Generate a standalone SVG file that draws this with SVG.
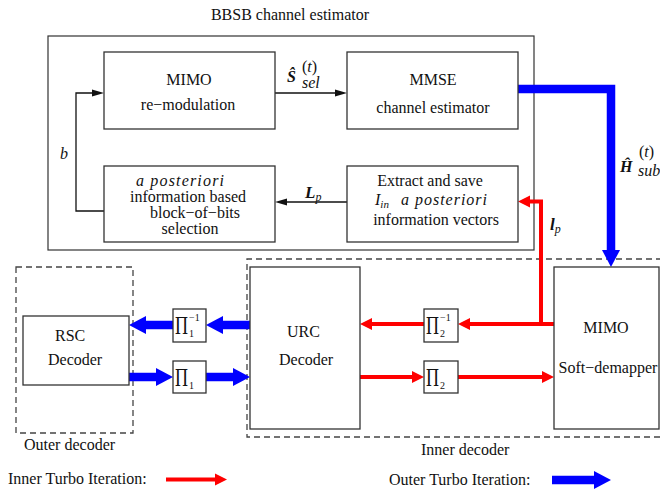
<svg xmlns="http://www.w3.org/2000/svg" width="660" height="489" viewBox="0 0 660 489">
<style>
.box{fill:#fff;stroke:#333;stroke-width:1.3}
.frame{fill:none;stroke:#333;stroke-width:1.2}
.dash{fill:none;stroke:#444;stroke-width:1.3;stroke-dasharray:6 4}
.t{font-family:"Liberation Serif","Times New Roman",serif;font-size:16px;fill:#111}
.c{text-anchor:middle}
.i{font-style:italic}
.bi{font-style:italic;font-weight:bold}
.pi{font-family:"Liberation Serif","Times New Roman",serif;font-size:18px;fill:#111}
.sm{font-family:"Liberation Serif","Times New Roman",serif;font-size:10px;fill:#111}
.blk{fill:none;stroke:#111;stroke-width:1.3}
.blu{fill:none;stroke:#0000ff;stroke-width:8.5;stroke-linejoin:miter}
.red{fill:none;stroke:#ff0000;stroke-width:4;stroke-linejoin:miter}
</style>
<defs>
<marker id="hb" markerUnits="userSpaceOnUse" orient="auto" overflow="visible" refX="0" refY="0" markerWidth="20" markerHeight="20"><path d="M0,-9 L17,0 L0,9 Z" fill="#0000ff"/></marker>
<marker id="hr" markerUnits="userSpaceOnUse" orient="auto" overflow="visible" refX="0" refY="0" markerWidth="14" markerHeight="14"><path d="M0,-6 L12,0 L0,6 Z" fill="#ff0000"/></marker>
<marker id="hk" markerUnits="userSpaceOnUse" orient="auto" overflow="visible" refX="0" refY="0" markerWidth="14" markerHeight="8"><path d="M0,-3.5 L12,0 L0,3.5 Z" fill="#111"/></marker>
</defs>
<rect width="660" height="489" fill="#fff"/>

<g id="bbsb-estimator">
<rect class="frame" x="48" y="36" width="486" height="214"/>
<text class="t c" x="290" y="20">BBSB channel estimator</text>
</g>

<g id="outer-decoder-group">
<rect class="dash" x="16" y="267" width="117" height="166"/>
<text class="t" x="24" y="450">Outer decoder</text>
</g>

<g id="inner-decoder-group">
<path class="dash" d="M662,259 H247 V437 H662"/>
<text class="t" x="421" y="455">Inner decoder</text>
</g>

<g id="connectors">
<path class="blk" d="M275,93 H335" marker-end="url(#hk)"/>
<path class="blk" d="M347,202 H287" marker-end="url(#hk)"/>
<path class="blk" d="M104,211 H76 V93 H92" marker-end="url(#hk)"/>
<path class="blu" d="M518,89 H611 V250" marker-end="url(#hb)"/>
<path class="red" d="M554,324 H470" marker-end="url(#hr)"/>
<path class="red" d="M541,326 V201.5 H530" marker-end="url(#hr)"/>
<path class="red" d="M424,324 H372" marker-end="url(#hr)"/>
<path class="red" d="M360,377 H412" marker-end="url(#hr)"/>
<path class="red" d="M458,377 H542" marker-end="url(#hr)"/>
<path class="blu" d="M250,325 H223" marker-end="url(#hb)"/>
<path class="blu" d="M173,325 H146" marker-end="url(#hb)"/>
<path class="blu" d="M129,377 H156" marker-end="url(#hb)"/>
<path class="blu" d="M206,377 H233" marker-end="url(#hb)"/>
</g>

<g id="connector-labels">
<text class="t bi" x="287" y="82" font-size="20">Ŝ</text>
<text class="t" x="302" y="72" font-size="11">(<tspan class="i">t</tspan>)</text>
<text class="t i" x="302" y="88" font-size="11">sel</text>
<text class="t" x="305" y="198"><tspan class="bi" font-size="17">L</tspan><tspan class="i" font-size="12" dy="3">p</tspan></text>
<text class="t i" x="60" y="159" font-size="17">b</text>
<text class="t bi" x="620" y="172" font-size="20">Ĥ</text>
<text class="t" x="639" y="157" font-size="11">(<tspan class="i">t</tspan>)</text>
<text class="t i" x="638" y="176" font-size="11">sub</text>
<text class="t" x="550" y="230"><tspan class="bi" font-size="17">l</tspan><tspan class="i" font-size="12" dy="3">p</tspan></text>
</g>

<g id="mimo-remodulation">
<rect class="box" x="104" y="52" width="171" height="77"/>
<text class="t c" x="189" y="85">MIMO</text>
<text class="t c" x="188" y="110">re−modulation</text>
</g>

<g id="mmse-estimator">
<rect class="box" x="347" y="52" width="171" height="77"/>
<text class="t c" x="433" y="85">MMSE</text>
<text class="t c" x="433" y="113">channel estimator</text>
</g>

<g id="block-selection">
<rect class="box" x="104" y="166" width="171" height="76"/>
<text class="t i" x="136" y="186" textLength="88" lengthAdjust="spacing">a posteriori</text>
<text class="t c" x="188" y="202">information based</text>
<text class="t c" x="195" y="218">block−of−bits</text>
<text class="t c" x="190" y="234">selection</text>
</g>

<g id="extract-save">
<rect class="box" x="347" y="166" width="171" height="76"/>
<text class="t c" x="430" y="186">Extract and save</text>
<text class="t" x="375" y="205"><tspan class="i">I</tspan><tspan class="i" font-size="11" dy="3">in</tspan></text>
<text class="t i" x="401" y="205" textLength="86" lengthAdjust="spacing">a posteriori</text>
<text class="t c" x="436" y="225">information vectors</text>
</g>

<g id="rsc-decoder">
<rect class="box" x="23" y="316" width="106" height="69"/>
<text class="t" x="55" y="341">RSC</text>
<text class="t" x="48" y="365">Decoder</text>
</g>

<g id="urc-decoder">
<rect class="box" x="250" y="267" width="110" height="162"/>
<text class="t" x="287" y="337">URC</text>
<text class="t" x="279" y="365">Decoder</text>
</g>

<g id="mimo-demapper">
<rect class="box" x="554" y="267" width="105" height="162"/>
<text class="t c" x="606" y="333">MIMO</text>
<text class="t c" x="608" y="373">Soft−demapper</text>
</g>

<g id="pi1-inv">
<rect class="box" x="173" y="309" width="33" height="33"/>
<text class="pi" transform="translate(175,334) scale(1,1.4)">Π</text>
<text class="sm" x="189" y="337">1</text>
<text class="sm" x="189" y="321">−1</text>
</g>

<g id="pi1">
<rect class="box" x="173" y="361" width="33" height="32"/>
<text class="pi" transform="translate(175,386) scale(1,1.4)">Π</text>
<text class="sm" x="189" y="389">1</text>
</g>

<g id="pi2-inv">
<rect class="box" x="424" y="309" width="34" height="33"/>
<text class="pi" transform="translate(426,334) scale(1,1.4)">Π</text>
<text class="sm" x="440" y="337">2</text>
<text class="sm" x="440" y="321">−1</text>
</g>

<g id="pi2">
<rect class="box" x="424" y="361" width="34" height="32"/>
<text class="pi" transform="translate(426,386) scale(1,1.4)">Π</text>
<text class="sm" x="440" y="389">2</text>
</g>

<g id="legend">
<text class="t" x="8" y="484">Inner Turbo Iteration:</text>
<path class="red" d="M166,479.5 H215" marker-end="url(#hr)"/>
<text class="t" x="389" y="485">Outer Turbo Iteration:</text>
<path class="blu" d="M552,480 H594" marker-end="url(#hb)"/>
</g>
</svg>
